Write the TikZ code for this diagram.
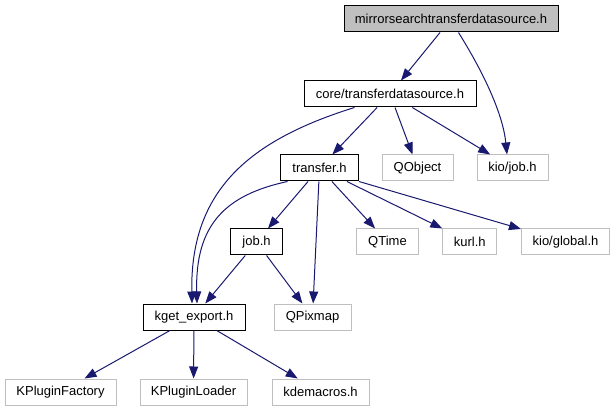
\documentclass[tikz,border=0pt]{standalone}
\usepackage{fontspec}
\setmainfont{Liberation Sans}
\usetikzlibrary{arrows.meta,calc}
\definecolor{navy}{HTML}{191970}
\definecolor{boxgray}{HTML}{BFBFBF}
\definecolor{extgray}{HTML}{BFBFBF}
\begin{document}
\begin{tikzpicture}[x=1pt,y=-1pt,
  doc/.style={draw=black, line width=1pt, minimum height=26pt, inner sep=0pt, font=\fontsize{13}{15}\selectfont},
  ext/.style={doc, draw=extgray},
  dep/.style={draw=navy, line width=1pt, -{Triangle[length=12pt,width=9pt]}}]
\useasboundingbox[fill=white] (0,0) rectangle (615,411);
\node[doc, fill=boxgray, minimum width=214pt] (mirror) at (451,19) {mirrorsearchtransferdatasource.h};
\node[doc, minimum width=172pt] (core) at (390,94) {core/transferdatasource.h};
\node[doc, minimum width=78pt] (transfer) at (319.5,168) {transfer.h};
\node[ext, minimum width=71pt] (qobject) at (417.5,168) {QObject};
\node[ext, minimum width=71pt] (kiojob) at (512.5,168) {kio/job.h};
\node[doc, minimum width=52pt] (job) at (256.5,242) {job.h};
\node[ext, minimum width=62pt] (qtime) at (387.5,242) {QTime};
\node[ext, minimum width=54pt] (kurl) at (469.7,242) {kurl.h};
\node[ext, minimum width=88pt] (kioglobal) at (565.5,242) {kio/global.h};
\node[doc, minimum width=102pt] (kget) at (194,317) {kget\_export.h};
\node[ext, minimum width=77pt] (qpixmap) at (312.5,317) {QPixmap};
\node[ext, minimum width=111pt] (kpf) at (60.5,392) {KPluginFactory};
\node[ext, minimum width=107pt] (kpl) at (193.5,392) {KPluginLoader};
\node[ext, minimum width=97pt] (kdem) at (320.5,392) {kdemacros.h};

\draw[dep] (mirror) -- (core);
\draw[dep] ($(mirror.south west)+(115,0)$) .. controls (485,75) and (503,115) .. ($(kiojob.north)+(-5.5,0)$);
\draw[dep] (core) -- (transfer);
\draw[dep] (core) -- (qobject);
\draw[dep] (core) -- (kiojob);
\draw[dep] ($(core.south west)+(51,0)$) .. controls (250,140) and (190,190) .. ($(kget.north)+(-2,0)$);
\draw[dep] ($(transfer.south west)+(7.5,0)$) .. controls (225,195) and (195,225) .. ($(kget.north)+(3,0)$);
\draw[dep] (transfer) -- (job);
\draw[dep] (transfer) -- (qpixmap);
\draw[dep] (transfer) -- (qtime);
\draw[dep] (transfer) -- (kurl);
\draw[dep] (transfer.south east) -- (kioglobal);
\draw[dep] (job) -- (kget);
\draw[dep] (job) -- (qpixmap);
\draw[dep] (kget) -- (kpf);
\draw[dep] (kget) -- (kpl);
\draw[dep] (kget) -- (kdem);
\end{tikzpicture}
\end{document}
